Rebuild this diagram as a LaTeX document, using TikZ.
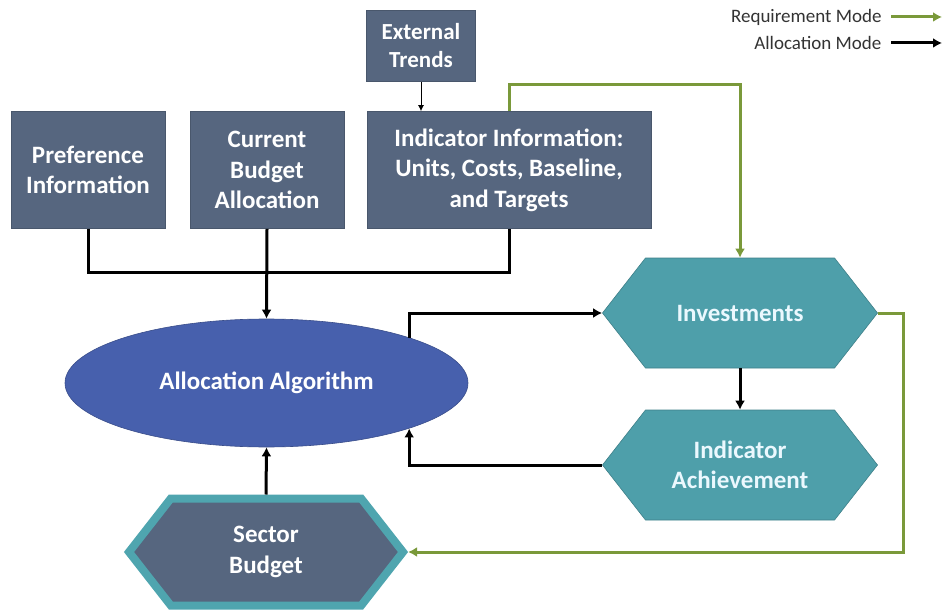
\documentclass[tikz,border=0pt]{standalone}
\usepackage{fontspec}
\setmainfont{Carlito}
\usetikzlibrary{arrows.meta,shapes.geometric,shapes.symbols}

\definecolor{slate}{HTML}{56667F}
\definecolor{algblue}{HTML}{4760AD}
\definecolor{hexteal}{HTML}{4E9FAA}
\definecolor{rimteal}{HTML}{4FA5AF}
\definecolor{reqgreen}{HTML}{7A993A}

\begin{document}
\begin{tikzpicture}[x=1pt,y=-1pt,
		infobox/.style={rectangle,fill=slate,draw=slate!85!black,line width=0.6pt,text=white,
			font=\bfseries\fontsize{25}{30.5}\selectfont,align=center,inner sep=0pt},
		hexa/.style={signal,signal to=west and east,signal pointer angle=104,fill=hexteal,
			draw=hexteal!80!black,line width=0.6pt,text=white!92!cyan,
			font=\bfseries\fontsize{25}{30.5}\selectfont,align=center,
			minimum width=275,minimum height=110,inner sep=0pt},
		conn/.style={line width=3pt,black},
		req/.style={line width=3pt,reqgreen},
		>={Latex[length=9pt,width=10pt]}]
	\useasboundingbox (0,0) rectangle (944,612);
	%% define boxes
	\node (pref) at (88,170) [infobox,minimum width=154,minimum height=117] {Preference\\Information};
	\node (cur) at (267,170) [infobox,minimum width=154,minimum height=117] {Current\\Budget\\Allocation};
	\node (ext) at (421,46) [infobox,minimum width=109,minimum height=71,font=\bfseries\fontsize{23}{28}\selectfont] {External\\Trends};
	\node (ind) at (509,170) [infobox,minimum width=284,minimum height=117] {Indicator Information:\\Units, Costs, Baseline,\\and Targets};
	%% define algorithm and outcome shapes
	\node (alg) at (266.5,383) [ellipse,fill=algblue,draw=algblue!80!black,line width=0.6pt,text=white,
		font=\bfseries\fontsize{25}{30}\selectfont,minimum width=403,minimum height=128] {Allocation Algorithm};
	\node (inv) at (740,313) [hexa] {Investments};
	\node (ach) at (740,465) [hexa] {Indicator\\Achievement};
	\node (sec) at (266,552) [hexa,fill=slate,draw=rimteal,line width=8pt,text=white,
		minimum width=274,minimum height=107] {Sector\\Budget};
	%% legend
	\node (lreq) at (885,17) [anchor=east,font=\fontsize{19}{21}\selectfont,text=black!80] {Requirement Mode};
	\node (lall) at (885,43) [anchor=east,font=\fontsize{19}{21}\selectfont,text=black!80] {Allocation Mode};
	\coordinate (lreqend) at (942,17);
	\coordinate (lallend) at (942,43);
	\draw[->,line width=3pt,reqgreen] (lreq.east) ++(6,0) -- (lreqend);
	\draw[->,line width=3pt] (lall.east) ++(6,0) -- (lallend);
	%% define arrows
	\coordinate (bus) at (267,272);
	\draw[conn] (pref.south) |- (bus) -| (ind.south);
	\draw[conn,->] (cur.south) -- (alg.north);
	\draw[-{Latex[length=6pt,width=6pt]},line width=1pt] (ext.south) -- (ext.south |- ind.north);
	\coordinate (reqtop) at (600,85);
	\draw[req,->] (ind.north -| reqtop) ++(-91,0) |- (reqtop) -| (inv.north);
	\coordinate (reqright) at (903,400);
	\draw[req,->] (inv.east) -| (reqright) |- (sec.east);
	\draw[conn,->] (alg.north east) |- (inv.west);
	\draw[conn,->] (ach.west) -| (alg.south east);
	\draw[conn,->] (inv.south) -- (ach.north);
	\draw[conn,->] (sec.north) -- (alg.south);
\end{tikzpicture}
\end{document}
